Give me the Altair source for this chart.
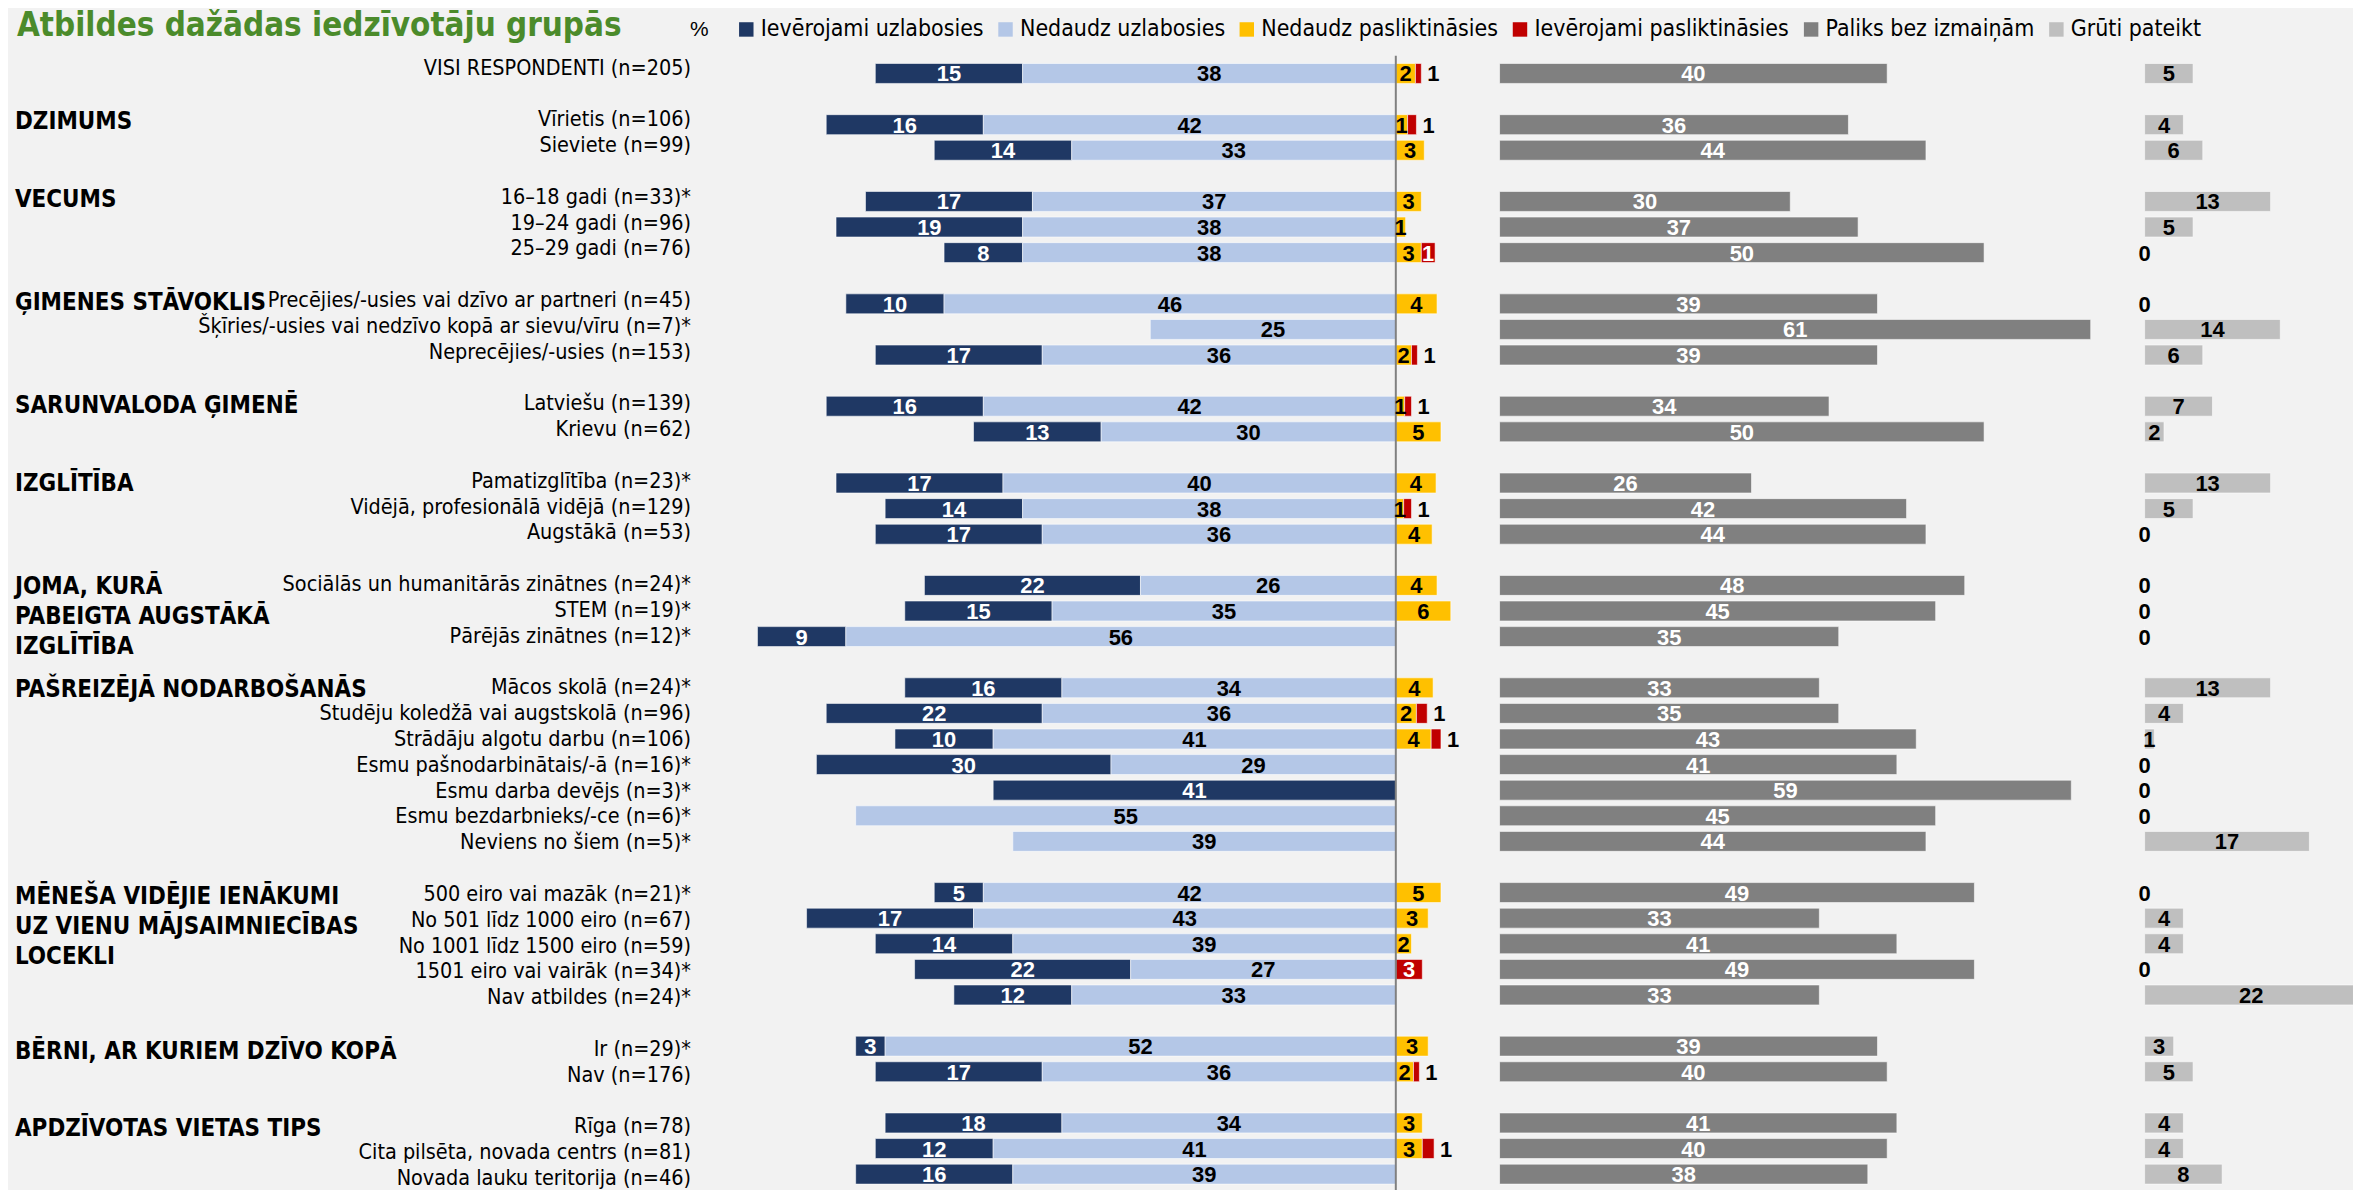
import math
import altair as alt
import pandas as pd

title_text = "Atbildes dažādas iedzīvotāju grupās"
series_names = ["Ievērojami uzlabosies", "Nedaudz uzlabosies", "Nedaudz pasliktināsies",
                "Ievērojami pasliktināsies", "Paliks bez izmaiņām", "Grūti pateikt"]
series_colors = ["#1f3864", "#b4c7e7", "#ffc000", "#c00000", "#808080", "#bfbfbf"]

group_names = ["", "DZIMUMS", "VECUMS", "ĢIMENES STĀVOKLIS", "SARUNVALODA ĢIMENĒ", "IZGLĪTĪBA",
               "JOMA, KURĀ\nPABEIGTA AUGSTĀKĀ\nIZGLĪTĪBA", "PAŠREIZĒJĀ NODARBOŠANĀS",
               "MĒNEŠA VIDĒJIE IENĀKUMI\nUZ VIENU MĀJSAIMNIECĪBAS\nLOCEKLI",
               "BĒRNI, AR KURIEM DZĪVO KOPĀ", "APDZĪVOTAS VIETAS TIPS"]
group_sizes = [1, 2, 3, 3, 2, 3, 3, 7, 5, 2, 3]

categories = [
    "VISI RESPONDENTI (n=205)",
    "Vīrietis (n=106)", "Sieviete (n=99)",
    "16–18 gadi (n=33)*", "19–24 gadi (n=96)", "25–29 gadi (n=76)",
    "Precējies/-usies vai dzīvo ar partneri (n=45)",
    "Šķīries/-usies vai nedzīvo kopā ar sievu/vīru (n=7)*",
    "Neprecējies/-usies (n=153)",
    "Latviešu (n=139)", "Krievu (n=62)",
    "Pamatizglītība (n=23)*", "Vidējā, profesionālā vidējā (n=129)", "Augstākā (n=53)",
    "Sociālās un humanitārās zinātnes (n=24)*", "STEM (n=19)*", "Pārējās zinātnes (n=12)*",
    "Mācos skolā (n=24)*", "Studēju koledžā vai augstskolā (n=96)", "Strādāju algotu darbu (n=106)",
    "Esmu pašnodarbinātais/-ā (n=16)*", "Esmu darba devējs (n=3)*", "Esmu bezdarbnieks/-ce (n=6)*",
    "Neviens no šiem (n=5)*",
    "500 eiro vai mazāk (n=21)*", "No 501 līdz 1000 eiro (n=67)", "No 1001 līdz 1500 eiro (n=59)",
    "1501 eiro vai vairāk (n=34)*", "Nav atbildes (n=24)*",
    "Ir (n=29)*", "Nav (n=176)",
    "Rīga (n=78)", "Cita pilsēta, novada centrs (n=81)", "Novada lauku teritorija (n=46)",
]

sig_up = [15, 16, 14, 17, 19, 8, 10, 0, 17, 16, 13, 17, 14, 17, 22, 15, 9, 16, 22, 10, 30, 41, 0, 0,
          5, 17, 14, 22, 12, 3, 17, 18, 12, 16]
some_up = [38, 42, 33, 37, 38, 38, 46, 25, 36, 42, 30, 40, 38, 36, 26, 35, 56, 34, 36, 41, 29, 0, 55, 39,
           42, 43, 39, 27, 33, 52, 36, 34, 41, 39]
some_down = [2.0, 1.2, 2.9, 2.6, 1.0, 2.6, 4.2, 0, 1.6, 0.9, 4.6, 4.1, 0.8, 3.7, 4.2, 5.6, 0, 3.8, 2.1, 3.6,
             0, 0, 0, 0, 4.6, 3.3, 1.6, 0, 0, 3.3, 1.8, 2.7, 2.7, 0]
sig_down = [0.6, 0.9, 0, 0, 0, 1.4, 0, 0, 0.6, 0.7, 0, 0, 0.8, 0, 0, 0, 0, 0, 1.1, 1.0, 0, 0, 0, 0,
            0, 0, 0, 2.7, 0, 0, 0.6, 0, 1.2, 0]
no_change = [40, 36, 44, 30, 37, 50, 39, 61, 39, 34, 50, 26, 42, 44, 48, 45, 35, 33, 35, 43, 41, 59, 45, 44,
             49, 33, 41, 49, 33, 39, 40, 41, 40, 38]
hard_to_say = [5, 4, 6, 13, 5, 0, 0, 14, 6, 7, 2, 13, 5, 0, 0, 0, 0, 13, 4, 1, 0, 0, 0, 17,
               0, 4, 4, 0, 22, 3, 5, 4, 4, 8]

NARROW = "Liberation Sans Narrow, Arial Narrow, DejaVu Sans Condensed, sans-serif"
NUMFONT = "Liberation Sans, Arial, sans-serif"
GREEN = "#4b8b2b"


def rnd(v):
    return str(int(math.floor(v + 0.5)))


# row positions: one empty row between groups
pos = []
i = 0
group_pos = []
for g, n in enumerate(group_sizes):
    if g > 0:
        i += 1
    group_pos.append(i)
    for _ in range(n):
        pos.append(i)
        i += 1

N = len(categories)
cat_df = pd.DataFrame({"pos": pos, "cat": categories})
grp_df = pd.DataFrame({"pos": group_pos, "group": group_names})
grp_df = grp_df[grp_df["group"] != ""]
title_df = pd.DataFrame({"t": [title_text]})

seg_rows, lab_rows = [], []
for j in range(N):
    d, l, y, r = sig_up[j], some_up[j], some_down[j], sig_down[j]
    segs = [(series_names[0], -(l + d), -l, d, "white"),
            (series_names[1], -l, 0, l, "black"),
            (series_names[2], 0, y, y, "black"),
            (series_names[3], y, y + r, r, "white")]
    for name, a, b, v, c in segs:
        if v > 0:
            seg_rows.append({"pos": pos[j], "series": name, "start": a, "end": b})
            outside = name == series_names[3] and v < 1.3
            lab_rows.append({"pos": pos[j], "mid": (a + b) / 2, "end": b, "text": rnd(v),
                             "tcolor": "black" if outside else c, "outside": outside})
seg_df = pd.DataFrame(seg_rows)
lab_df = pd.DataFrame(lab_rows)
in_df = lab_df[~lab_df["outside"]]
out_df = lab_df[lab_df["outside"]]

side_df = pd.DataFrame({"pos": pos, "no_change": no_change, "hard": hard_to_say,
                        "s_nc": series_names[4], "s_h": series_names[5]})

ROW = 25.9
ydom = [-0.502, 43.6]
H = (ydom[1] - ydom[0]) * ROW
Y = alt.Y("pos:Q", scale=alt.Scale(domain=ydom, reverse=True, nice=False, zero=False), axis=None)
color_scale = alt.Scale(domain=series_names, range=series_colors)
legend_def = alt.Legend(orient="none", legendX=684, legendY=-38, direction="horizontal",
                        columns=7, title="%", titleOrient="left", titleFont=NUMFONT,
                        titleFontSize=21, titleFontWeight="normal", titleColor="black",
                        titlePadding=26, symbolType="square", symbolSize=210,
                        symbolStrokeWidth=0, labelFont=NARROW, labelFontSize=23,
                        labelColor="black", labelOffset=3, columnPadding=10, labelLimit=400)

BAR = dict(size=20, stroke="white", strokeWidth=0.8, strokeOpacity=0.7, clip=True)
NUM = dict(font=NUMFONT, fontSize=22, fontWeight="bold", baseline="middle", dy=1)

# label panel
cat_text = alt.Chart(cat_df).mark_text(align="right", baseline="middle", font=NARROW, fontSize=21.5,
                                       color="black").encode(x=alt.value(685), y=Y, text="cat:N")
grp_text = alt.Chart(grp_df).mark_text(align="left", baseline="alphabetic", dy=9, font=NARROW,
                                       fontSize=24, fontWeight="bold", color="black",
                                       lineBreak="\n", lineHeight=30).encode(
    x=alt.value(7), y=Y, text="group:N")
title_mark = alt.Chart(title_df).mark_text(align="left", baseline="top", font=NARROW, fontSize=33,
                                           fontWeight="bold", color=GREEN).encode(
    x=alt.value(9), y=alt.value(-46), text="t:N")
label_panel = alt.layer(cat_text, grp_text, title_mark).properties(width=697, height=H)

# diverging panel
ddom = [-67, 7]
XD = alt.Scale(domain=ddom, nice=False, zero=False)
div_bars = alt.Chart(seg_df).mark_bar(**BAR).encode(
    x=alt.X("start:Q", scale=XD, axis=None), x2="end:Q", y=Y,
    color=alt.Color("series:N", scale=color_scale, legend=legend_def))
center = alt.Chart(pd.DataFrame({"c": [0]})).mark_rule(color="#808080", strokeWidth=2).encode(
    x=alt.X("c:Q", scale=XD, axis=None))
in_labels = alt.Chart(in_df).mark_text(align="center", **NUM).encode(
    x=alt.X("mid:Q", scale=XD, axis=None), y=Y, text="text:N",
    color=alt.Color("tcolor:N", scale=None))
out_labels = alt.Chart(out_df).mark_text(align="left", dx=6, color="black", **NUM).encode(
    x=alt.X("end:Q", scale=XD, axis=None), y=Y, text="text:N")
div_panel = alt.layer(div_bars, center, in_labels, out_labels).properties(
    width=(ddom[1] - ddom[0]) * 9.85, height=H)

# no change panel
ndom = [0, 62.2]
XN = alt.Scale(domain=ndom, nice=False, zero=True)
nc_bars = alt.Chart(side_df).mark_bar(orient="horizontal", **BAR).encode(
    x=alt.X("no_change:Q", scale=XN, axis=None), y=Y,
    color=alt.Color("s_nc:N", scale=color_scale, legend=legend_def))
nc_labels = alt.Chart(side_df).transform_calculate(mid="datum.no_change / 2").mark_text(
    align="center", color="white", **NUM).encode(
    x=alt.X("mid:Q", scale=XN, axis=None), y=Y, text=alt.Text("no_change:Q", format=".0f"))
nc_panel = alt.layer(nc_bars, nc_labels).properties(width=(ndom[1] - ndom[0]) * 9.72, height=H)

# hard to say panel
hdom = [0, 21.5]
XH = alt.Scale(domain=hdom, nice=False, zero=True)
h_bars = alt.Chart(side_df).mark_bar(orient="horizontal", **BAR).encode(
    x=alt.X("hard:Q", scale=XH, axis=None), y=Y,
    color=alt.Color("s_h:N", scale=color_scale, legend=legend_def))
h_labels = alt.Chart(side_df).transform_calculate(mid="datum.hard / 2").mark_text(
    align="center", color="black", **NUM).encode(
    x=alt.X("mid:Q", scale=XH, axis=None), y=Y, text=alt.Text("hard:Q", format=".0f"))
h_panel = alt.layer(h_bars, h_labels).properties(width=(hdom[1] - hdom[0]) * 9.72, height=H)

chart = alt.hconcat(label_panel, div_panel, nc_panel, h_panel, spacing=35).resolve_scale(
    color="shared").properties(background="#f2f2f2", padding=0).configure_view(stroke=None)

chart.save("out.html", embed_options={"renderer": "svg", "actions": False})
